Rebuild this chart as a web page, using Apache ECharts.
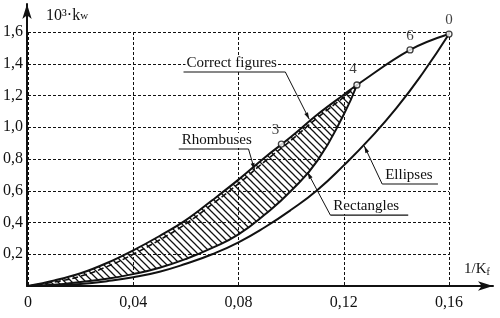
<!DOCTYPE html>
<html>
<head>
<meta charset="utf-8">
<script src="https://cdn.jsdelivr.net/npm/echarts@6/dist/echarts.min.js"></script>
<style>
html, body { margin: 0; background: #fff; }
#chart { width: 500px; height: 318px; }
</style>
</head>
<body>
<div id="chart"></div>
<script>
// values
const hatchX = [0, 0.01, 0.02, 0.03, 0.04, 0.05, 0.06, 0.07, 0.08, 0.09, 0.10, 0.11, 0.12, 0.125]
const correctY = [0, 0.035, 0.08, 0.145, 0.225, 0.315, 0.415, 0.54, 0.67, 0.81, 0.94, 1.08, 1.205, 1.266]
const correctTailX = [0.1452, 0.16]
const correctTailY = [1.487, 1.587]
const rhombusY = [0, 0.025, 0.062, 0.122, 0.2, 0.29, 0.392, 0.515, 0.645, 0.785, 0.918, 1.06, 1.19, 1.266]
const rectangleY = [0, 0.008, 0.025, 0.045, 0.075, 0.115, 0.17, 0.24, 0.325, 0.45, 0.6, 0.79, 1.08, 1.266]
const ellipseX = [0, 0.01, 0.02, 0.03, 0.04, 0.05, 0.06, 0.07, 0.08, 0.09, 0.10, 0.11, 0.12, 0.13, 0.14, 0.15, 0.16]
const ellipseY = [0, 0.003, 0.012, 0.03, 0.055, 0.09, 0.14, 0.2, 0.275, 0.37, 0.48, 0.605, 0.76, 0.93, 1.12, 1.34, 1.587]
const pointX = [0.0963, 0.125, 0.1452, 0.16]
const pointY = [0.894, 1.266, 1.487, 1.587]
const pointNames = ['3', '4', '6', '0']

const FONT = '"Liberation Serif", "DejaVu Serif", serif'

// annotation anchors in data units: underline from x0 to x1 at y, leader to (tx, ty)
const notes = [
	{ text: 'Correct figures', x0: 0.0591, x1: 0.0978, y: 1.348, tx: 0.1069, ty: 1.05, from: 'right' },
	{ text: 'Rhombuses', x0: 0.0573, x1: 0.0838, y: 0.863, tx: 0.0861, ty: 0.731, from: 'right' },
	{ text: 'Ellipses', x0: 0.1346, x1: 0.1558, y: 0.6425, tx: 0.1278, ty: 0.882, from: 'left' },
	{ text: 'Rectangles', x0: 0.1149, x1: 0.1445, y: 0.447, tx: 0.1062, ty: 0.718, from: 'left' }
]

function pairs(xArr, yArr) {
	return xArr.map((x, i) => [x, yArr[i]])
}

function hatchPattern() {
	const c = document.createElement('canvas')
	c.width = 7
	c.height = 7
	const g = c.getContext('2d')
	g.strokeStyle = '#111'
	g.lineWidth = 1.25
	g.beginPath()
	g.moveTo(-1, -1); g.lineTo(8, 8)
	g.moveTo(-1, 6); g.lineTo(1, 8)
	g.moveTo(6, -1); g.lineTo(8, 1)
	g.stroke()
	return c
}
const pattern = hatchPattern()

// hatched band between correct figures (top) and rectangles (bottom)
function renderHatch(params, api) {
	const top = hatchX.map((x, i) => api.coord([x, correctY[i]]))
	const bottom = hatchX.map((x, i) => api.coord([x, rectangleY[i]])).reverse().slice(1, -1)
	return {
		type: 'polygon',
		shape: { points: top.concat(bottom), smooth: 0.35 },
		style: { fill: { image: pattern, repeat: 'repeat' }, stroke: null }
	}
}

const black = '#111'
const curve = { color: black, width: 2 }

const chart = echarts.init(document.getElementById('chart'))

chart.setOption({
	backgroundColor: '#fff',
	animation: false,
	grid: [
		{ left: 27, right: 51, top: 32, bottom: 32 },
		{ left: 27, right: 7, top: 4, bottom: 32 }
	],
	xAxis: [{
		type: 'value', min: 0, max: 0.16, interval: 0.04,
		axisLine: { show: false }, axisTick: { show: false },
		axisLabel: {
			margin: 9, color: black, fontFamily: FONT, fontSize: 16,
			formatter: v => v === 0 ? '0' : v.toFixed(2).replace('.', ',')
		},
		splitLine: { lineStyle: { color: black, type: [3, 2], width: 1 } }
	}, {
		gridIndex: 1, type: 'value', min: 0, max: 1,
		axisTick: { show: false }, axisLabel: { show: false }, splitLine: { show: false },
		axisLine: { symbol: ['none', 'arrow'], symbolSize: [7, 15], lineStyle: { color: black, width: 2 } },
		name: '1/K{s|f}', nameLocation: 'end', nameGap: -29,
		nameTextStyle: {
			fontFamily: FONT, fontSize: 15, color: black, verticalAlign: 'bottom', padding: [0, 0, 9, 0],
			rich: { s: { fontFamily: FONT, fontSize: 10, color: black, verticalAlign: 'bottom' } }
		}
	}],
	yAxis: [{
		type: 'value', min: 0, max: 1.6, interval: 0.2,
		axisLine: { show: false }, axisTick: { show: false },
		axisLabel: {
			margin: 5, color: black, fontFamily: FONT, fontSize: 16,
			formatter: v => v === 0 ? '' : v.toFixed(1).replace('.', ',')
		},
		splitLine: { lineStyle: { color: black, type: [3, 2], width: 1 } },
		name: '10³·k{s|w}', nameLocation: 'end', nameGap: 8,
		nameTextStyle: {
			fontFamily: FONT, fontSize: 16, color: black, align: 'left', verticalAlign: 'bottom', padding: [0, 0, 0, 18],
			rich: { s: { fontFamily: FONT, fontSize: 11, color: black } }
		}
	}, {
		gridIndex: 1, type: 'value', min: 0, max: 1,
		axisTick: { show: false }, axisLabel: { show: false }, splitLine: { show: false },
		axisLine: { symbol: ['none', 'arrow'], symbolSize: [7, 15], lineStyle: { color: black, width: 2 } }
	}],
	series: [{
		name: 'hatch', type: 'custom', renderItem: renderHatch, data: [0], z: 2, silent: true
	}, {
		name: 'Rectangles', type: 'line', smooth: true, showSymbol: false,
		data: pairs(hatchX, rectangleY), lineStyle: curve, z: 3
	}, {
		name: 'Rhombuses', type: 'line', smooth: true, showSymbol: false,
		data: pairs(hatchX, rhombusY), lineStyle: { color: black, width: 1.6, type: [6, 3] }, z: 3
	}, {
		name: 'Correct figures', type: 'line', smooth: 0.4, showSymbol: false,
		data: pairs(hatchX, correctY).concat(pairs(correctTailX, correctTailY)), lineStyle: curve, z: 4
	}, {
		name: 'Ellipses', type: 'line', smooth: true, showSymbol: false,
		data: pairs(ellipseX, ellipseY), lineStyle: curve, z: 3
	}, {
		name: 'points', type: 'scatter', symbol: 'circle', symbolSize: 6, z: 5,
		itemStyle: { color: '#fff', borderColor: black, borderWidth: 1.3 },
		data: pointX.map((x, i) => ({
			value: [x, pointY[i]], name: pointNames[i],
			label: { offset: i === 0 ? [-6, 0] : (i === 1 ? [-4, -2] : [0, 0]) }
		})),
		label: {
			show: true, position: 'top', distance: 3, formatter: p => p.name,
			fontFamily: FONT, fontSize: 15, color: black, textBorderWidth: 0
		}
	}]
})

// labels with underlines and leader lines
const graphics = []
notes.forEach(n => {
	const a = chart.convertToPixel({ gridIndex: 0 }, [n.x0, n.y])
	const b = chart.convertToPixel({ gridIndex: 0 }, [n.x1, n.y])
	const t = chart.convertToPixel({ gridIndex: 0 }, [n.tx, n.ty])
	const s = n.from === 'right' ? b : a
	graphics.push({
		type: 'text', z: 10,
		style: {
			text: n.text, x: a[0] + 2, y: a[1] - 1, verticalAlign: 'bottom',
			fontFamily: FONT, fontSize: 15, fill: black, backgroundColor: '#fff', padding: [0, 1, 0, 1]
		}
	})
	graphics.push({
		type: 'polyline', z: 10,
		shape: { points: [a, b] },
		style: { stroke: black, lineWidth: 1.2, fill: null }
	})
	graphics.push({
		type: 'polyline', z: 10,
		shape: { points: [s, t] },
		style: { stroke: black, lineWidth: 1, fill: null }
	})
	const dx = t[0] - s[0], dy = t[1] - s[1]
	const len = Math.sqrt(dx * dx + dy * dy)
	const ux = dx / len, uy = dy / len
	graphics.push({
		type: 'polygon', z: 10,
		shape: { points: [t, [t[0] - ux * 7 - uy * 2, t[1] - uy * 7 + ux * 2], [t[0] - ux * 7 + uy * 2, t[1] - uy * 7 - ux * 2]] },
		style: { fill: black }
	})
})
chart.setOption({ graphic: graphics })
</script>
</body>
</html>
